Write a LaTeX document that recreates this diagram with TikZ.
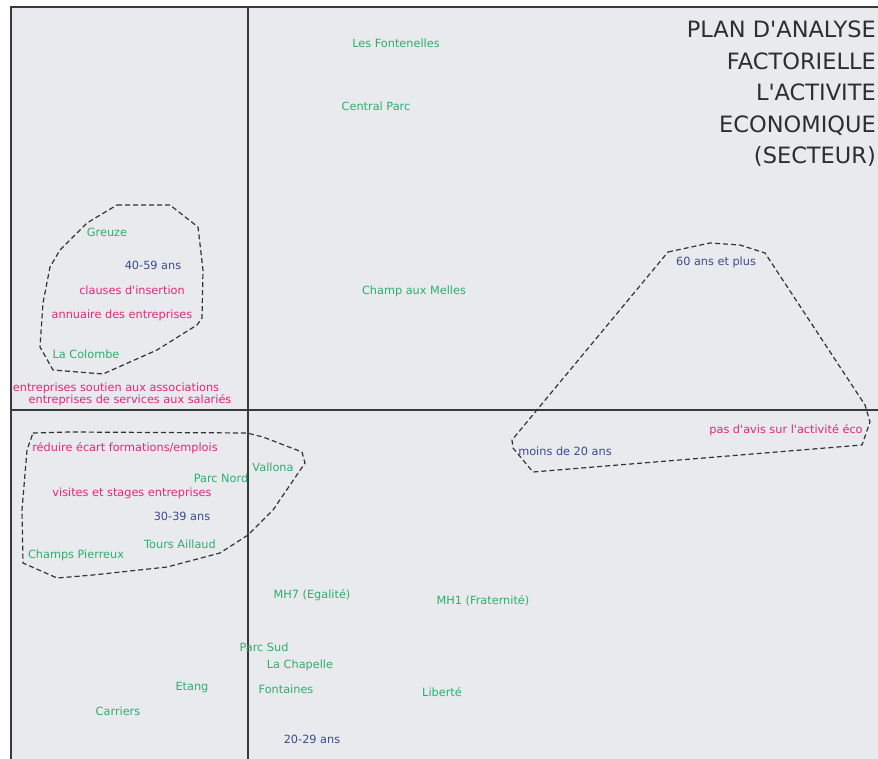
\documentclass[tikz,border=0pt]{standalone}
\usepackage{fontspec}
\setmainfont{DejaVu Sans}
\newcommand{\apq}{\textquotesingle}
\begin{document}
\begin{tikzpicture}[x=1pt,y=-1pt,
  lbl/.style={inner sep=0pt,font=\fontsize{11.3}{13}\selectfont},
  grn/.style={lbl,text=lgreen},
  pnk/.style={lbl,text=lpink},
  nvy/.style={lbl,text=lnavy},
  axis/.style={draw=axgray,line width=1.4pt},
  hull/.style={draw=hullgray,line width=1.2pt,dash pattern=on 5pt off 3pt,line join=round},
  ttl/.style={inner sep=0pt,font=\fontsize{22.5}{31.5}\selectfont,text=titlegray,align=right,anchor=north east}]
\definecolor{bg}{HTML}{E8EAED}
\definecolor{lgreen}{HTML}{2DAE6E}
\definecolor{lpink}{HTML}{E8247A}
\definecolor{lnavy}{HTML}{3B4B8C}
\definecolor{axgray}{HTML}{3A3A3A}
\definecolor{hullgray}{HTML}{333333}
\definecolor{titlegray}{HTML}{2E2E2E}
\useasboundingbox (0,0) rectangle (878,759);
\fill[white] (0,0) rectangle (878,759);
\fill[bg] (11,7) rectangle (878,759);
% frame and axes
\draw[axis] (11,759) -- (11,7) -- (878,7);
\coordinate (vtop) at (248,7);
\coordinate (vbot) at (248,759);
\coordinate (hl) at (11,410);
\coordinate (hr) at (878,410);
\draw[axis] (vtop) -- (vbot);
\draw[axis] (hl) -- (hr);
% hulls
\draw[hull] (117,205) -- (170,205) -- (198,227) -- (203,270) -- (202,318) -- (197,325) -- (157,350) -- (103,374) -- (53,370) -- (40,347) -- (43,303) -- (50,267) -- (60,250) -- (87,223) -- cycle;
\draw[hull] (33,433) -- (70,432) -- (247,433) -- (263,437) -- (302,452) -- (305,463) -- (273,510) -- (248,535) -- (220,553) -- (167,567) -- (93,575) -- (57,578) -- (23,563) -- (22,510) -- (27,450) -- cycle;
\draw[hull] (668,252) -- (710,243) -- (740,245) -- (765,253) -- (865,405) -- (870,422) -- (862,445) -- (533,472) -- (513,448) -- (512,440) -- cycle;
% title
\node[ttl] (title) at (876,21) {PLAN D\apq ANALYSE\\FACTORIELLE\\L\apq ACTIVITE\\ECONOMIQUE\\(SECTEUR)};
% labels
\node[grn] (fontenelles) at (396,43) {Les Fontenelles};
\node[grn] (central) at (376,106) {Central Parc};
\node[grn] (melles) at (414,291) {Champ aux Melles};
\node[grn] (greuze) at (107,232) {Greuze};
\node[nvy] (a4059) at (153,265) {40-59 ans};
\node[pnk] (clauses) at (132,290) {clauses d\apq insertion};
\node[pnk] (annuaire) at (122,315) {annuaire des entreprises};
\node[grn] (colombe) at (86,354) {La Colombe};
\node[pnk] (soutien) at (116,388) {entreprises soutien aux associations};
\node[pnk] (services) at (130,400) {entreprises de services aux salariés};
\node[nvy] (a60) at (716,262) {60 ans et plus};
\node[pnk] (avis) at (786,430) {pas d\apq avis sur l\apq activité éco};
\node[nvy] (moins20) at (565,451) {moins de 20 ans};
\node[pnk] (reduire) at (125,448) {réduire écart formations/emplois};
\node[grn] (parcnord) at (221,478) {Parc Nord};
\node[grn] (vallona) at (273,467) {Vallona};
\node[pnk] (visites) at (132,493) {visites et stages entreprises};
\node[nvy] (a3039) at (182,516) {30-39 ans};
\node[grn] (tours) at (180,544) {Tours Aillaud};
\node[grn] (pierreux) at (76,555) {Champs Pierreux};
\node[grn] (mh7) at (312,595) {MH7 (Egalité)};
\node[grn] (mh1) at (483,601) {MH1 (Fraternité)};
\node[grn] (parcsud) at (264,647) {Parc Sud};
\node[grn] (chapelle) at (300,665) {La Chapelle};
\node[grn] (fontaines) at (286,689) {Fontaines};
\node[grn] (liberte) at (442,692) {Liberté};
\node[grn] (etang) at (192,688) {Etang};
\node[grn] (carriers) at (118,711) {Carriers};
\node[nvy] (a2029) at (312,739) {20-29 ans};
\end{tikzpicture}
\end{document}
